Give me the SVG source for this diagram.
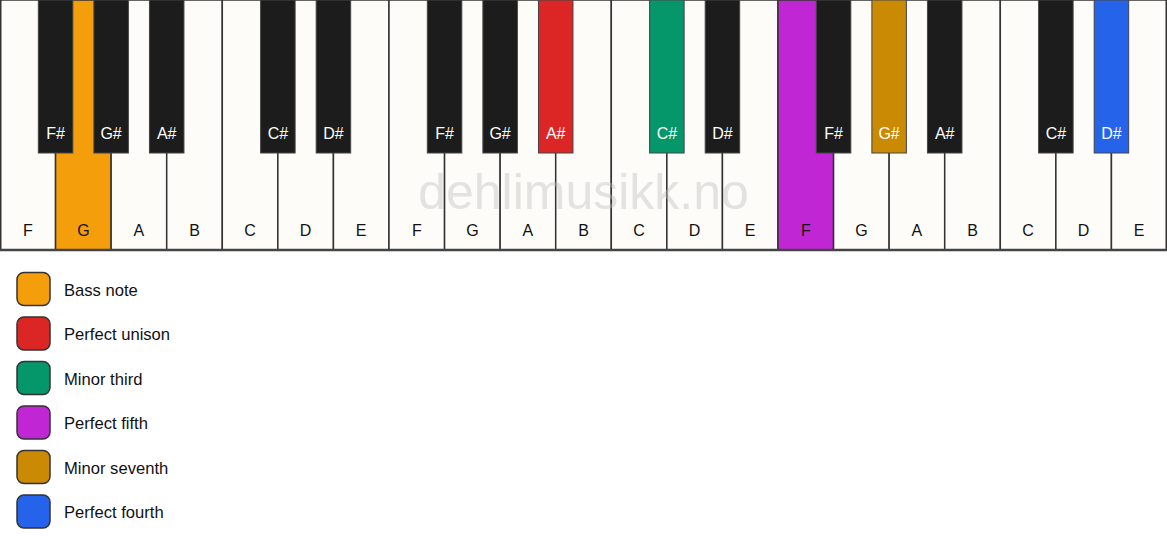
<svg xmlns="http://www.w3.org/2000/svg" width="1167" height="550" viewBox="0 0 1167 550">
<style>
.w{fill:#fdfcf8;stroke:#333;stroke-width:1.5}
.b{fill:#1c1c1c;stroke:#444;stroke-width:1}
.lw{font-family:"Liberation Sans",Arial,sans-serif;font-size:16px;fill:#111;text-anchor:middle}
.lb{font-family:"Liberation Sans",Arial,sans-serif;font-size:16px;fill:#fff;text-anchor:middle}
.lg{font-family:"Liberation Sans",Arial,sans-serif;font-size:16.6px;fill:#111}
.sw{stroke:#333;stroke-width:1.5}
</style>
<rect x="0" y="0" width="1167" height="550" fill="#fff"/>
<g id="white-keys">
<g id="w0"><rect class="w" x="0.75" y="0" width="54.82" height="250"/><text class="lw" x="27.8" y="236">F</text></g>
<g id="w1"><rect class="w" x="55.57" y="0" width="55.57" height="250" style="fill:#f59e0b"/><text class="lw" x="83.4" y="236">G</text></g>
<g id="w2"><rect class="w" x="111.14" y="0" width="55.57" height="250"/><text class="lw" x="138.9" y="236">A</text></g>
<g id="w3"><rect class="w" x="166.71" y="0" width="55.57" height="250"/><text class="lw" x="194.5" y="236">B</text></g>
<g id="w4"><rect class="w" x="222.29" y="0" width="55.57" height="250"/><text class="lw" x="250.1" y="236">C</text></g>
<g id="w5"><rect class="w" x="277.86" y="0" width="55.57" height="250"/><text class="lw" x="305.6" y="236">D</text></g>
<g id="w6"><rect class="w" x="333.43" y="0" width="55.57" height="250"/><text class="lw" x="361.2" y="236">E</text></g>
<g id="w7"><rect class="w" x="389" y="0" width="55.57" height="250"/><text class="lw" x="416.8" y="236">F</text></g>
<g id="w8"><rect class="w" x="444.57" y="0" width="55.57" height="250"/><text class="lw" x="472.4" y="236">G</text></g>
<g id="w9"><rect class="w" x="500.14" y="0" width="55.57" height="250"/><text class="lw" x="527.9" y="236">A</text></g>
<g id="w10"><rect class="w" x="555.71" y="0" width="55.57" height="250"/><text class="lw" x="583.5" y="236">B</text></g>
<g id="w11"><rect class="w" x="611.29" y="0" width="55.57" height="250"/><text class="lw" x="639.1" y="236">C</text></g>
<g id="w12"><rect class="w" x="666.86" y="0" width="55.57" height="250"/><text class="lw" x="694.6" y="236">D</text></g>
<g id="w13"><rect class="w" x="722.43" y="0" width="55.57" height="250"/><text class="lw" x="750.2" y="236">E</text></g>
<g id="w14"><rect class="w" x="778" y="0" width="55.57" height="250" style="fill:#c026d3"/><text class="lw" x="805.8" y="236">F</text></g>
<g id="w15"><rect class="w" x="833.57" y="0" width="55.57" height="250"/><text class="lw" x="861.4" y="236">G</text></g>
<g id="w16"><rect class="w" x="889.14" y="0" width="55.57" height="250"/><text class="lw" x="916.9" y="236">A</text></g>
<g id="w17"><rect class="w" x="944.71" y="0" width="55.57" height="250"/><text class="lw" x="972.5" y="236">B</text></g>
<g id="w18"><rect class="w" x="1000.29" y="0" width="55.57" height="250"/><text class="lw" x="1028.1" y="236">C</text></g>
<g id="w19"><rect class="w" x="1055.86" y="0" width="55.57" height="250"/><text class="lw" x="1083.6" y="236">D</text></g>
<g id="w20"><rect class="w" x="1111.43" y="0" width="54.82" height="250"/><text class="lw" x="1139.2" y="236">E</text></g>
</g>
<line x1="0" y1="250" x2="1167" y2="250" stroke="#444" stroke-width="2.5"/>
<text x="583.5" y="209" font-family="Liberation Sans,Arial,sans-serif" font-size="50" fill="#bbb" fill-opacity="0.4" text-anchor="middle">dehlimusikk.no</text>
<g id="black-keys">
<g id="b1"><rect class="b" x="38.32" y="0" width="34.5" height="153"/><text class="lb" x="55.6" y="139">F#</text></g>
<g id="b2"><rect class="b" x="93.89" y="0" width="34.5" height="153"/><text class="lb" x="111.1" y="139">G#</text></g>
<g id="b3"><rect class="b" x="149.46" y="0" width="34.5" height="153"/><text class="lb" x="166.7" y="139">A#</text></g>
<g id="b5"><rect class="b" x="260.61" y="0" width="34.5" height="153"/><text class="lb" x="277.9" y="139">C#</text></g>
<g id="b6"><rect class="b" x="316.18" y="0" width="34.5" height="153"/><text class="lb" x="333.4" y="139">D#</text></g>
<g id="b8"><rect class="b" x="427.32" y="0" width="34.5" height="153"/><text class="lb" x="444.6" y="139">F#</text></g>
<g id="b9"><rect class="b" x="482.89" y="0" width="34.5" height="153"/><text class="lb" x="500.1" y="139">G#</text></g>
<g id="b10"><rect class="b" x="538.46" y="0" width="34.5" height="153" style="fill:#dc2626"/><text class="lb" x="555.7" y="139">A#</text></g>
<g id="b12"><rect class="b" x="649.61" y="0" width="34.5" height="153" style="fill:#059669"/><text class="lb" x="666.9" y="139">C#</text></g>
<g id="b13"><rect class="b" x="705.18" y="0" width="34.5" height="153"/><text class="lb" x="722.4" y="139">D#</text></g>
<g id="b15"><rect class="b" x="816.32" y="0" width="34.5" height="153"/><text class="lb" x="833.6" y="139">F#</text></g>
<g id="b16"><rect class="b" x="871.89" y="0" width="34.5" height="153" style="fill:#ca8a04"/><text class="lb" x="889.1" y="139">G#</text></g>
<g id="b17"><rect class="b" x="927.46" y="0" width="34.5" height="153"/><text class="lb" x="944.7" y="139">A#</text></g>
<g id="b19"><rect class="b" x="1038.61" y="0" width="34.5" height="153"/><text class="lb" x="1055.9" y="139">C#</text></g>
<g id="b20"><rect class="b" x="1094.18" y="0" width="34.5" height="153" style="fill:#2563eb"/><text class="lb" x="1111.4" y="139">D#</text></g>
</g>
<g id="legend">
<g id="lg1"><rect class="sw" x="17" y="272.5" width="33" height="33" rx="7" fill="#f59e0b"/><text class="lg" x="64" y="295.5">Bass note</text></g>
<g id="lg2"><rect class="sw" x="17" y="317" width="33" height="33" rx="7" fill="#dc2626"/><text class="lg" x="64" y="340">Perfect unison</text></g>
<g id="lg3"><rect class="sw" x="17" y="361.5" width="33" height="33" rx="7" fill="#059669"/><text class="lg" x="64" y="384.5">Minor third</text></g>
<g id="lg4"><rect class="sw" x="17" y="406" width="33" height="33" rx="7" fill="#c026d3"/><text class="lg" x="64" y="429">Perfect fifth</text></g>
<g id="lg5"><rect class="sw" x="17" y="450.5" width="33" height="33" rx="7" fill="#ca8a04"/><text class="lg" x="64" y="473.5">Minor seventh</text></g>
<g id="lg6"><rect class="sw" x="17" y="495" width="33" height="33" rx="7" fill="#2563eb"/><text class="lg" x="64" y="518">Perfect fourth</text></g>
</g>
</svg>
